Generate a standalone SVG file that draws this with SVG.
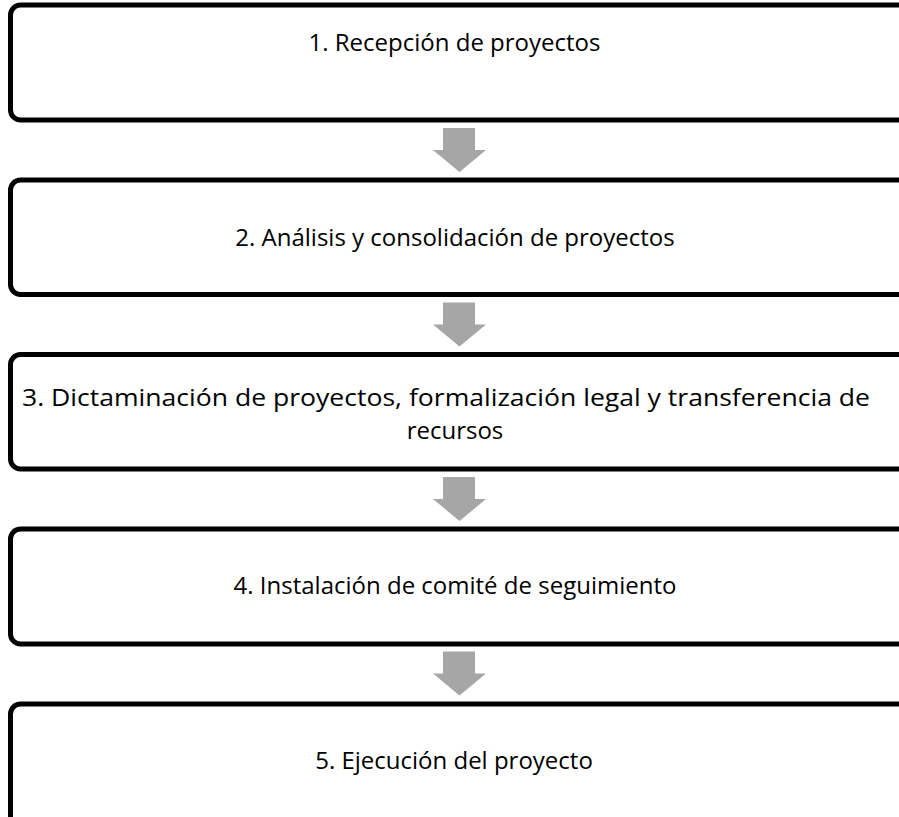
<svg xmlns="http://www.w3.org/2000/svg" width="899" height="817" viewBox="0 0 899 817">
<style>
.box{fill:#fff;stroke:#000;stroke-width:5}
.lbl{font-family:"Open Sans","Liberation Sans",sans-serif;font-size:24px;fill:#000;text-anchor:middle}
.arr{fill:#a6a6a6}
</style>
<rect width="899" height="817" fill="#fff"/>
<g id="connectors">
<polygon class="arr" points="443,128 475,128 475,150 486,150 459.5,172 433,150 443,150"/>
<polygon class="arr" points="443,302.5 475,302.5 475,324.5 486,324.5 459.5,346.5 433,324.5 443,324.5"/>
<polygon class="arr" points="443,477 475,477 475,499 486,499 459.5,521 433,499 443,499"/>
<polygon class="arr" points="443,651.5 475,651.5 475,673.5 486,673.5 459.5,695.5 433,673.5 443,673.5"/>
</g>
<g id="n1"><rect class="box" x="10.5" y="5" width="900" height="115" rx="10"/><text class="lbl" x="454.5" y="51">1. Recepción de proyectos</text></g>
<g id="n2"><rect class="box" x="10.5" y="180" width="900" height="114.5" rx="10"/><text class="lbl" x="455" y="246">2. Análisis y consolidación de proyectos</text></g>
<g id="n3"><rect class="box" x="10.5" y="354.5" width="900" height="114.5" rx="10"/><text class="lbl" x="446" y="406" textLength="848" lengthAdjust="spacingAndGlyphs">3. Dictaminación de proyectos, formalización legal y transferencia de</text><text class="lbl" x="455" y="439">recursos</text></g>
<g id="n4"><rect class="box" x="10.5" y="529" width="900" height="115" rx="10"/><text class="lbl" x="455" y="594">4. Instalación de comité de seguimiento</text></g>
<g id="n5"><rect class="box" x="10.5" y="704" width="900" height="130" rx="10"/><text class="lbl" x="454" y="769">5. Ejecución del proyecto</text></g>
</svg>
